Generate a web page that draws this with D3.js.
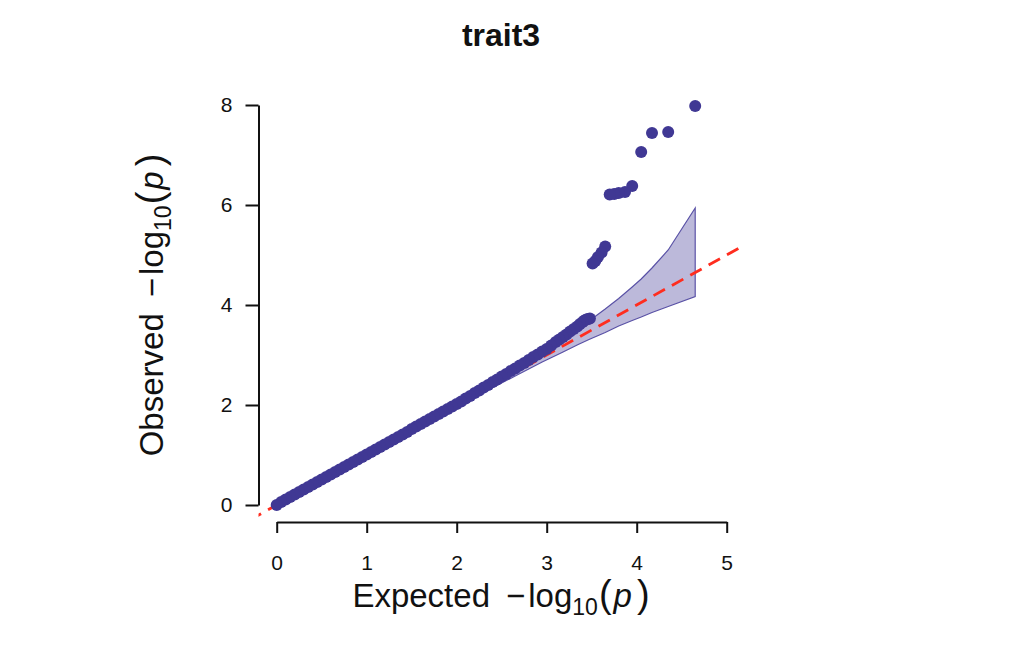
<!DOCTYPE html>
<html>
<head>
<meta charset="utf-8">
<script src="https://cdn.jsdelivr.net/npm/d3@7"></script>
<style>
  html, body { margin: 0; padding: 0; background: #ffffff; }
  svg { display: block; font-family: "Liberation Sans", Arial, Helvetica, sans-serif; }
  .tick text { font-size: 21px; }
</style>
</head>
<body>
<svg id="chart" width="1011" height="668"></svg>
<script>
// ---- data ----
const title = "trait3";
const xTicks = [0, 1, 2, 3, 4, 5];
const yTicks = [0, 2, 4, 6, 8];

// expected -log10(p) of plotted points
const expected = [
  4.65, 4.35, 4.17, 4.05, 3.95, 3.87, 3.80, 3.75, 3.70,
  3.65, 3.61, 3.57, 3.54, 3.51,
  3.48, 3.46, 3.44, 3.42, 3.40, 3.37, 3.34, 3.30, 3.26, 3.22, 3.18, 3.14, 3.10,
  3.05, 3.00, 2.95, 2.90, 2.85, 2.80, 2.75, 2.70, 2.65, 2.60, 2.55, 2.50,
  2.45, 2.40, 2.35, 2.30, 2.25, 2.20, 2.15, 2.10, 2.05, 2.00,
  1.95, 1.90, 1.85, 1.80, 1.75, 1.70, 1.65, 1.60, 1.55, 1.50,
  1.45, 1.40, 1.35, 1.30, 1.25, 1.20, 1.15, 1.10, 1.05, 1.00,
  0.95, 0.90, 0.85, 0.80, 0.75, 0.70, 0.65, 0.60, 0.55, 0.50,
  0.45, 0.40, 0.35, 0.30, 0.25, 0.20, 0.15, 0.10, 0.05, 0.00
];
// observed -log10(p)
const observed = [
  7.98, 7.46, 7.44, 7.06, 6.38, 6.26, 6.24, 6.22, 6.21,
  5.17, 5.05, 4.96, 4.88, 4.83,
  3.73, 3.72, 3.71, 3.69, 3.66, 3.62, 3.57, 3.52, 3.47, 3.41, 3.36, 3.31, 3.26,
  3.19, 3.12, 3.07, 3.01, 2.96, 2.90, 2.84, 2.79, 2.73, 2.68, 2.62, 2.57,
  2.51, 2.46, 2.40, 2.35, 2.29, 2.24, 2.18, 2.13, 2.07, 2.02,
  1.97, 1.92, 1.87, 1.82, 1.77, 1.72, 1.67, 1.62, 1.57, 1.52,
  1.46, 1.41, 1.36, 1.31, 1.26, 1.21, 1.16, 1.11, 1.06, 1.01,
  0.96, 0.91, 0.86, 0.81, 0.76, 0.71, 0.66, 0.61, 0.56, 0.51,
  0.46, 0.41, 0.36, 0.31, 0.26, 0.21, 0.16, 0.11, 0.06, 0.00
];

// confidence band
const bandX     = [0.00, 0.65, 1.17, 1.65, 1.95, 2.35, 2.65, 2.95, 3.17, 3.35, 3.47, 3.65, 3.80, 3.95, 4.05, 4.17, 4.35, 4.65];
const bandUpper = [0.00, 0.66, 1.19, 1.67, 1.98, 2.40, 2.73, 3.06, 3.32, 3.53, 3.68, 3.92, 4.13, 4.36, 4.52, 4.74, 5.10, 5.94];
const bandLower = [0.00, 0.64, 1.16, 1.63, 1.92, 2.30, 2.58, 2.86, 3.05, 3.21, 3.31, 3.45, 3.58, 3.69, 3.76, 3.85, 3.97, 4.17];

// reference line y = x drawn across plot
const refLine = [-0.3, 5.4];

// ---- drawing ----
const svg = d3.select("#chart");
const ptColor = "#403894";

const x = d3.scaleLinear().domain([0, 5]).range([276.7, 726.7]);
const y = d3.scaleLinear().domain([0, 8]).range([505, 105]);

// plot region (R-style, 4% extension)
const plot = { x0: 258.5, x1: 743.5, y0: 63, y1: 522 };

svg.append("defs").append("clipPath").attr("id", "plotclip")
  .append("rect")
  .attr("x", plot.x0).attr("y", plot.y0)
  .attr("width", plot.x1 - plot.x0).attr("height", plot.y1 - plot.y0);

const pg = svg.append("g").attr("clip-path", "url(#plotclip)");

// band
const bandPts = bandX.map((v, i) => [x(v), y(bandUpper[i])])
  .concat(bandX.map((v, i) => [x(v), y(bandLower[i])]).reverse());
pg.append("path")
  .attr("d", d3.line()(bandPts) + "Z")
  .attr("fill", "#bcb9da")
  .attr("stroke", "#5a52a6")
  .attr("stroke-width", 1.2);

// dashed reference line
pg.append("line")
  .attr("x1", x(refLine[0])).attr("y1", y(refLine[0]))
  .attr("x2", x(refLine[1])).attr("y2", y(refLine[1]))
  .attr("stroke", "#ff2d1f")
  .attr("stroke-width", 2.8)
  .attr("stroke-dasharray", "13,8");

// points
pg.selectAll("circle.pt")
  .data(expected.map((e, i) => ({ e, o: observed[i] })))
  .join("circle")
  .attr("class", "pt")
  .attr("cx", d => x(d.e))
  .attr("cy", d => y(d.o))
  .attr("r", 6)
  .attr("fill", ptColor);

// axes
const xAxis = svg.append("g")
  .attr("transform", "translate(0,522)")
  .call(d3.axisBottom(x).tickValues(xTicks).tickFormat(d3.format("d"))
    .tickSize(11).tickSizeOuter(0).tickPadding(22));
const yAxis = svg.append("g")
  .attr("transform", "translate(258.5,0)")
  .call(d3.axisLeft(y).tickValues(yTicks).tickFormat(d3.format("d"))
    .tickSize(13).tickSizeOuter(0).tickPadding(13));

[xAxis, yAxis].forEach(a => {
  a.attr("font-size", 21).attr("font-family", "'Liberation Sans', Arial, sans-serif");
  a.select(".domain").attr("stroke", "#111").attr("stroke-width", 2);
  a.selectAll(".tick line").attr("stroke", "#111").attr("stroke-width", 2);
  a.selectAll(".tick text").attr("fill", "#111").attr("font-size", 21);
});

// title
svg.append("text")
  .attr("x", 501).attr("y", 46)
  .attr("text-anchor", "middle")
  .style("font-weight", "bold")
  .style("font-size", "32px")
  .attr("fill", "#111")
  .text(title);

// axis label builder
function axisLabel(g, word) {
  const t = g.append("text")
    .attr("text-anchor", "middle")
    .style("font-size", "33px")
    .attr("fill", "#111");
  t.append("tspan").text(word);
  t.append("tspan").attr("dx", 16).text("\u2212");
  t.append("tspan").attr("dx", 3).text("log");
  t.append("tspan").style("font-size", "23px").attr("dy", 8).text("10");
  t.append("tspan").style("font-size", "38px").attr("dy", -8).attr("dx", 1).text("(");
  t.append("tspan").style("font-style", "italic").attr("dx", 2).text("p");
  t.append("tspan").style("font-size", "38px").attr("dx", 5).text(")");
  return t;
}

axisLabel(svg.append("g").attr("transform", "translate(501,607)"), "Expected");
axisLabel(svg.append("g").attr("transform", "translate(163,305) rotate(-90)"), "Observed");
</script>
</body>
</html>
